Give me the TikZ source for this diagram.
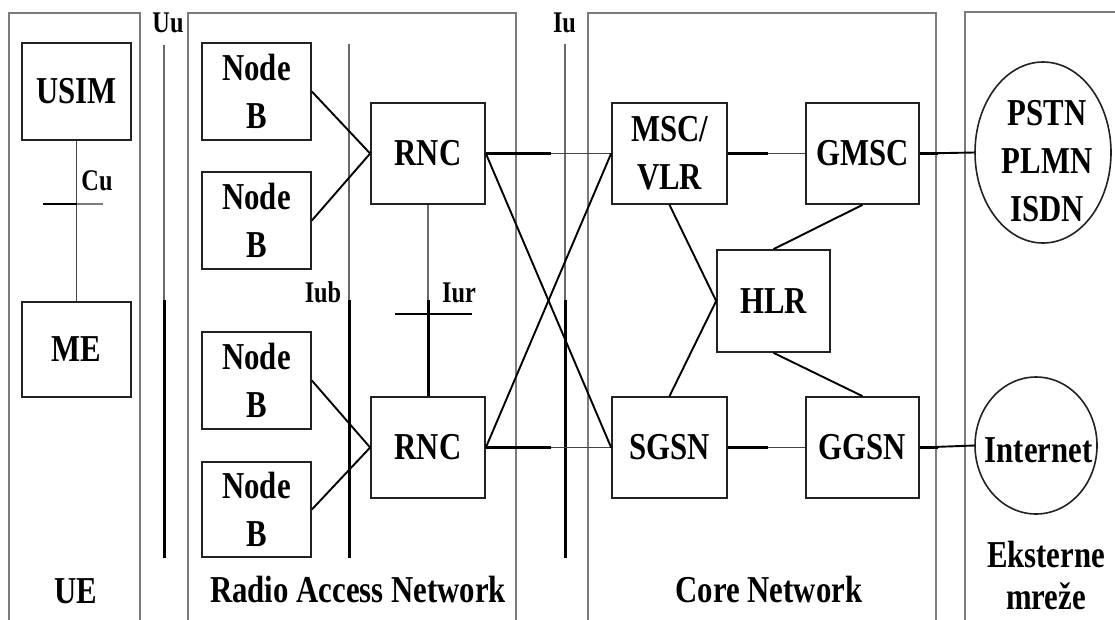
\documentclass[tikz,border=0pt]{standalone}
\usepackage{fontspec}
\newfontfamily\dfont{Liberation Serif}[FakeStretch=0.81]
\usetikzlibrary{shapes.geometric}
\definecolor{framec}{HTML}{7C7C7C}
\definecolor{boxc}{HTML}{222222}
\definecolor{thinc}{HTML}{444444}
\begin{document}
\begin{tikzpicture}[x=1pt,y=-1pt,
  bigtext/.style={font=\dfont\bfseries\fontsize{38}{48}\selectfont, text=black},
  smalltext/.style={font=\dfont\bfseries\fontsize{30}{36}\selectfont, inner sep=0, text=black},
  box/.style={draw=boxc, line width=1.7pt, fill=white, inner sep=0, align=center, bigtext},
  ell/.style={ellipse, draw=boxc, line width=1.6pt, inner sep=0},
  frame/.style={draw=framec, line width=2.3pt},
  upperline/.style={draw=framec!85!black, line width=2pt},
  lowerline/.style={draw=black, line width=3pt},
  link/.style={draw=black, line width=1.9pt},
  thinlink/.style={draw=thinc, line width=1.8pt},
  thicklink/.style={draw=black, line width=3.2pt},
  tick/.style={draw=black, line width=2.2pt}]
\useasboundingbox[fill=white] (0,0) rectangle (1115,619);

% frames (open at the bottom)
\draw[frame] (9,620) -- (9,13) -- (140,13) -- (140,620);
\draw[frame] (188,620) -- (188,13) -- (516,13) -- (516,620);
\draw[frame] (588,620) -- (588,13) -- (936,13) -- (936,620);
\draw[frame] (965,620) -- (965,12) -- (1116,12);

% nodes
\node[box, minimum width=109, minimum height=97] (usim) at (76.5,91.5) {USIM};
\node[box, minimum width=109, minimum height=95] (me) at (76.5,349.5) {ME};
\node[box, minimum width=109, minimum height=97] (nb1) at (256.5,91.5) {Node\\B};
\node[box, minimum width=109, minimum height=97] (nb2) at (256.5,220.5) {Node\\B};
\node[box, minimum width=109, minimum height=97] (nb3) at (256.5,380.5) {Node\\B};
\node[box, minimum width=109, minimum height=95] (nb4) at (256.5,509.5) {Node\\B};
\node[box, minimum width=114, minimum height=101] (rnc1) at (428,153.5) {RNC};
\node[box, minimum width=114, minimum height=101] (rnc2) at (428,447.5) {RNC};
\node[box, minimum width=115, minimum height=101] (msc) at (669.5,153.5) {MSC/\\VLR};
\node[box, minimum width=113, minimum height=101] (gmsc) at (862.5,153.5) {GMSC};
\node[box, minimum width=113, minimum height=102] (hlr) at (773.5,301) {HLR};
\node[box, minimum width=115, minimum height=101] (sgsn) at (669.5,447.5) {SGSN};
\node[box, minimum width=113, minimum height=101] (ggsn) at (862.5,447.5) {GGSN};
\node[ell, minimum width=136, minimum height=181] (pstn) at (1043,152.5) {};
\node[ell, minimum width=122, minimum height=137] (inet) at (1036,445.5) {};
\node[bigtext, align=center, inner sep=0] (pstnt) at (1047,161.5) {PSTN\\PLMN\\ISDN};
\node[bigtext, inner sep=0] (inett) at (1038.5,450) {Internet};

% interface lines
\coordinate (uutop) at (164,45);   \coordinate (uumid) at (164,300);  \coordinate (uubot) at (164,558);
\coordinate (iubtop) at (349,44);  \coordinate (iubmid) at (349,300); \coordinate (iubbot) at (349,558);
\coordinate (iutop) at (565,44);   \coordinate (iumid) at (565,300);  \coordinate (iubot2) at (565,558);
\coordinate (iurmid) at (428,300);
\draw[upperline] (uutop) -- (uumid);   \draw[lowerline] (uumid) -- (uubot);
\draw[upperline] (iubtop) -- (iubmid); \draw[lowerline] (iubmid) -- (iubbot);
\draw[upperline] (iutop) -- (iumid);   \draw[lowerline] (iumid) -- (iubot2);
\draw[upperline] (rnc1.south) -- (iurmid);  \draw[lowerline] (iurmid) -- (rnc2.north);
\coordinate (iurl) at (395,314); \coordinate (iurr) at (472,314);
\draw[tick] (iurl) -- (iurr);

% Cu
\draw[thinlink] (usim.south) -- (me.north);
\coordinate (cul) at (43,204); \coordinate (cum) at (76.5,204); \coordinate (cur) at (103,204);
\draw[thinlink, draw=framec] (cum) -- (cur);
\draw[tick, line width=2.8pt] (cul) -- (cum);

% links
\draw[link] (nb1.east) -- (rnc1.west);
\draw[link] (nb2.east) -- (rnc1.west);
\draw[link] (nb3.east) -- (rnc2.west);
\draw[link] (nb4.east) -- (rnc2.west);
\draw[thinlink] (rnc1.east) -- (msc.west);
\draw[thicklink] (rnc1.east) -- ++(65,0);
\draw[thinlink] (rnc2.east) -- (sgsn.west);
\draw[thicklink] (rnc2.east) -- ++(65,0);
\draw[link] (rnc1.east) -- (sgsn.west);
\draw[link] (rnc2.east) -- (msc.west);
\draw[thinlink] (msc.east) -- (gmsc.west);
\draw[thicklink] (msc.east) -- ++(40,0);
\draw[thinlink] (sgsn.east) -- (ggsn.west);
\draw[thicklink] (sgsn.east) -- ++(40,0);
\draw[link] (msc.south) -- (hlr.west);
\draw[link] (sgsn.north) -- (hlr.west);
\draw[link] (gmsc.south) -- (hlr.north);
\draw[link] (ggsn.north) -- (hlr.south);
\draw[link] (gmsc.east) -- (pstn.west);
\draw[thicklink, line width=2.6pt] (gmsc.east) -- ++(18,0);
\draw[link] (ggsn.east) -- (inet.west);
\draw[thicklink, line width=2.6pt] (ggsn.east) -- ++(18,0);

% labels
\node[smalltext, anchor=base] (luu) at (168,32) {Uu};
\node[smalltext, anchor=base] (liu) at (564.5,32) {Iu};
\node[smalltext, anchor=base] (liub) at (323,302) {Iub};
\node[smalltext, anchor=base] (liur) at (459,302) {Iur};
\node[smalltext, anchor=base] (lcu) at (97,190) {Cu};
\node[bigtext, anchor=base, inner sep=0] (lue) at (76,603) {UE};
\node[bigtext, anchor=base, inner sep=0] (lran) at (358,602) {Radio Access Network};
\node[bigtext, anchor=base, inner sep=0] (lcn) at (769,602) {Core Network};
\node[bigtext, anchor=base, inner sep=0] (lext1) at (1046,567) {Eksterne};
\node[bigtext, anchor=base, inner sep=0] (lext2) at (1046,609) {mreže};
\end{tikzpicture}
\end{document}
